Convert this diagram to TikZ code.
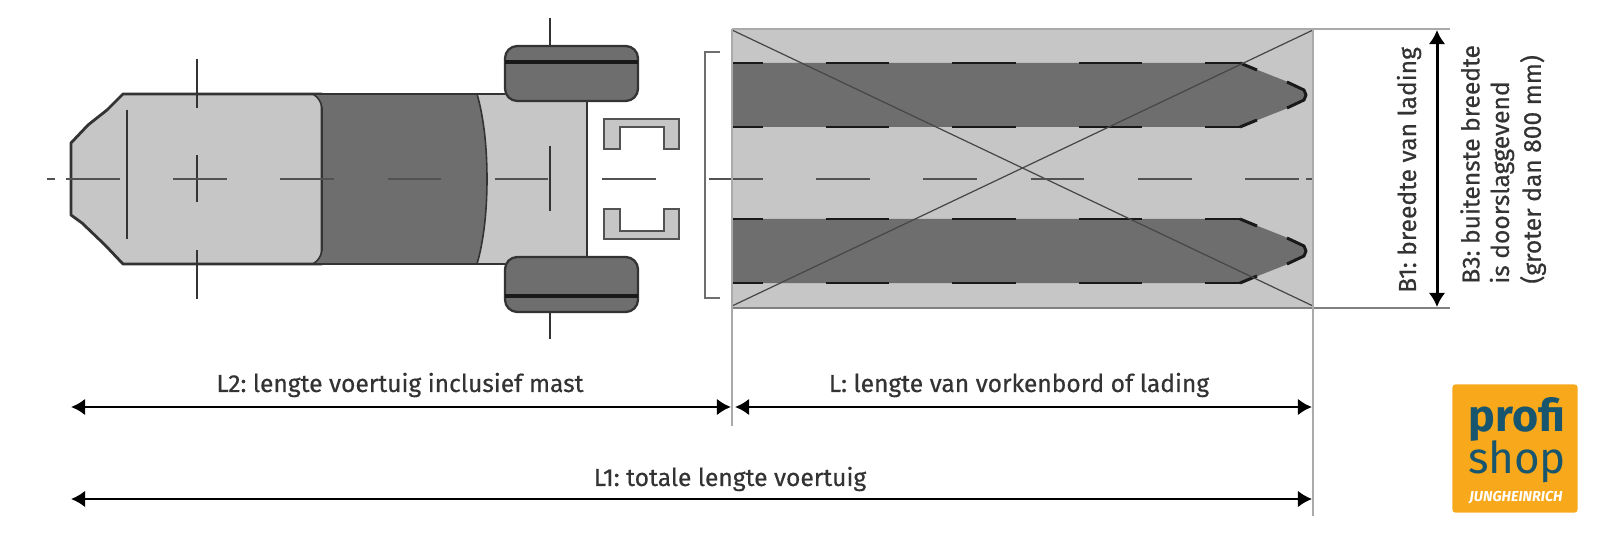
\documentclass[tikz,border=0pt]{standalone}
\usepackage{fontspec}
\setmainfont{Fira Sans}
\newfontfamily\dimfont[RawFeature={embolden=0.5}]{Fira Sans}
\usetikzlibrary{arrows.meta}
\definecolor{lightgr}{HTML}{C6C6C6}
\definecolor{darkgr}{HTML}{6E6E6E}
\definecolor{edgegr}{HTML}{333333}
\definecolor{loadgr}{HTML}{A0A0A0}
\definecolor{logoorange}{HTML}{F7A81B}
\definecolor{logoblue}{HTML}{17566E}
\tikzset{
  outline/.style={draw=edgegr, line width=1.6pt, line join=round},
  softline/.style={draw=edgegr, line width=0.9pt, line join=round},
  thinline/.style={draw=edgegr!85, line width=0.85pt},
  axle/.style={draw=edgegr, line width=1.3pt},
  centreline/.style={draw=edgegr!85, line width=0.7pt},
  cross/.style={draw=edgegr!90, line width=0.7pt},
  forkedge/.style={draw=black!90, line width=1.7pt},
  extline/.style={draw=loadgr!90, line width=1pt},
  dimarrow/.style={{Latex[length=8pt,width=9.5pt]}-{Latex[length=8pt,width=9.5pt]}, line width=1.7pt, black},
  dimlabel/.style={text=edgegr, font=\dimfont\frenchspacing\fontsize{14}{16}\selectfont, inner sep=0pt},
}
\begin{document}
\begin{tikzpicture}[x=0.02cm, y=-0.02cm]
    \useasboundingbox (0,0) rectangle (1597,537);

    % truck body
    \path[fill=lightgr] (477,94) rectangle (587,264);
    \draw[outline, fill=lightgr] (123,94) -- (107,110) -- (88,125) -- (71,143) -- (71,215)
        -- (82,223) -- (105,245) -- (123,264) -- (322,264) -- (322,94) -- cycle;
    \draw[softline, fill=darkgr] (313,94) .. controls (319,98) and (321,102) .. (322,108) -- (322,250)
        .. controls (321,256) and (319,260) .. (313,264) -- (477,264)
        .. controls (484,240) and (487,210) .. (487,179)
        .. controls (487,148) and (484,118) .. (477,94) -- cycle;
    \draw[outline] (313,94) -- (505,94);
    \draw[outline] (313,264) -- (505,264);
    \draw[softline, line width=1.2pt] (587,100) -- (587,258);

    % wheels
    \draw[softline, line width=1.3pt, fill=darkgr, rounded corners=7] (505,46) rectangle (638,101);
    \draw[softline, line width=1.3pt, fill=darkgr, rounded corners=7] (505,257) rectangle (638,312);
    \draw[draw=black!90, line width=2pt] (505,62) -- (638,62);
    \draw[draw=black!90, line width=2pt] (505,296) -- (638,296);
    \draw[axle] (550,18) -- (550,46);
    \draw[axle] (550,312) -- (550,339);
    \draw[axle] (550,146) -- (550,211);
    \draw[axle] (197,59) -- (197,108);
    \draw[axle] (197,155) -- (197,202);
    \draw[axle] (197,250) -- (197,299);
    \draw[axle] (127,110) -- (127,239);

    % mast
    \draw[thinline, fill=lightgr] (604,119) -- (679,119) -- (679,149) -- (664,149) -- (664,127)
        -- (620,127) -- (620,149) -- (604,149) -- cycle;
    \draw[thinline, fill=lightgr] (604,239) -- (679,239) -- (679,209) -- (664,209) -- (664,231)
        -- (620,231) -- (620,209) -- (604,209) -- cycle;
    \draw[draw=darkgr, line width=1pt] (720,52) -- (705,52) -- (705,298) -- (720,298);

    % load with forks
    \path[fill=lightgr] (732,29) rectangle (1313,308);
    \path[fill=darkgr] (732,63) -- (1240,63) -- (1288,82) -- (1304,90) -- (1306,95) -- (1304,100)
        -- (1288,108) -- (1240,127) -- (732,127) -- cycle;
    \path[fill=darkgr] (732,219) -- (1240,219) -- (1288,238) -- (1304,246) -- (1306,251) -- (1304,256)
        -- (1288,264) -- (1240,283) -- (732,283) -- cycle;
    \draw[forkedge, dash pattern=on 36.3pt off 35.7pt, dash phase=18.7pt] (732,63) -- (1240,63);
    \draw[forkedge, dash pattern=on 36.3pt off 35.7pt, dash phase=18.7pt] (732,127) -- (1240,127);
    \draw[forkedge, dash pattern=on 36.3pt off 35.7pt, dash phase=18.7pt] (732,219) -- (1240,219);
    \draw[forkedge, dash pattern=on 36.3pt off 35.7pt, dash phase=18.7pt] (732,283) -- (1240,283);
    \draw[forkedge] (732,63) -- (732,80);
    \draw[forkedge] (732,110) -- (732,127);
    \draw[forkedge] (732,219) -- (732,236);
    \draw[forkedge] (732,266) -- (732,283);
    \draw[forkedge] (1240,63) -- (1257,70);
    \draw[forkedge] (1240,127) -- (1257,120);
    \draw[forkedge] (1240,219) -- (1257,226);
    \draw[forkedge] (1240,283) -- (1257,276);
    \draw[forkedge, line join=round] (1287,82) -- (1304,90) -- (1306,95) -- (1304,100) -- (1287,108);
    \draw[forkedge, line join=round] (1287,238) -- (1304,246) -- (1306,251) -- (1304,256) -- (1287,264);
    \draw[cross] (732,30) -- (1313,306);
    \draw[cross] (1313,30) -- (732,306);

    % centre line
    \draw[centreline] (47,179) -- (55,179);
    \draw[centreline] (1306,179) -- (1312,179);
    \draw[centreline, dash pattern=on 30.6pt off 30.4pt] (66,179) -- (1303,179);

    % extension lines
    \draw[extline] (732,29) -- (1313,29) -- (1450,29);
    \draw[extline, draw=loadgr!80!black] (732,308) -- (1313,308) -- (1450,308);
    \draw[extline] (732,29) -- (732,426);
    \draw[extline] (1313,29) -- (1313,516);

    % dimensions
    \coordinate (l2a) at (71,407);
    \coordinate (l2b) at (731,407);
    \coordinate (la) at (735,407);
    \coordinate (lb) at (1312,407);
    \coordinate (l1a) at (71,499);
    \coordinate (l1b) at (1312,499);
    \coordinate (b1a) at (1437,30);
    \coordinate (b1b) at (1437,307);
    \draw[dimarrow] (l2a) -- (l2b);
    \draw[dimarrow] (la) -- (lb);
    \draw[dimarrow, line width=1.4pt] (l1a) -- (l1b);
    \draw[dimarrow] (b1a) -- (b1b);

    \node (l2text) at (400,385) [dimlabel]{L2: lengte voertuig inclusief mast};
    \node (ltext) at (1019,385) [dimlabel]{L: lengte van vorkenbord of lading};
    \node (l1text) at (730,479) [dimlabel]{L1: totale lengte voertuig};
    \node (b1text) at (1409,170) [dimlabel, rotate=90]{B1: breedte van lading};
    \node (b3text) at (1470,284) [dimlabel, rotate=90, anchor=west]{B3: buitenste breedte};
    \node (b3texta) at (1502,284) [dimlabel, rotate=90, anchor=west]{is doorslaggevend};
    \node (b3textb) at (1533,284) [dimlabel, rotate=90, anchor=west]{(groter dan 800 mm)};

    % logo
    \node (logo) at (1515,448.5) [fill=logoorange, rounded corners=2pt, minimum width=71.4pt, minimum height=73.1pt, inner sep=0pt]{};
    \node (profi) at (1517,431) [anchor=base, inner sep=0pt, text=logoblue, font=\fontsize{25.5}{26}\bfseries\selectfont]{profi};
    \node (shop) at (1517,473) [anchor=base, inner sep=0pt, text=logoblue, font=\fontsize{25}{26}\fontseries{l}\selectfont]{shop};
    \node (brand) at (1516,498) [inner sep=0pt, text=white, font=\fontsize{8.2}{9}\bfseries\itshape\selectfont]{JUNGHEINRICH};
\end{tikzpicture}
\end{document}
